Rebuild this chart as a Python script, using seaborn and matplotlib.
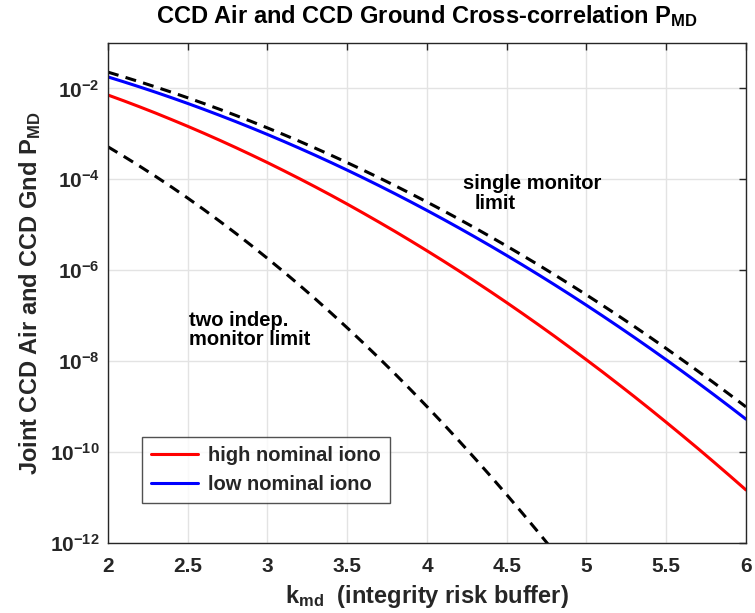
import numpy as np
import pandas as pd
import matplotlib
matplotlib.use("Agg")
import matplotlib.pyplot as plt
import matplotlib.ticker as mticker
import seaborn as sns

# ---- data ----
k_md = [2.0, 2.1, 2.2, 2.3, 2.4, 2.5, 2.6, 2.7, 2.8, 2.9,
        3.0, 3.1, 3.2, 3.3, 3.4, 3.5, 3.6, 3.7, 3.8, 3.9,
        4.0, 4.1, 4.2, 4.3, 4.4, 4.5, 4.6, 4.7, 4.8, 4.9,
        5.0, 5.1, 5.2, 5.3, 5.4, 5.5, 5.6, 5.7, 5.8, 5.9, 6.0]

single_limit = [2.275e-2, 1.786e-2, 1.390e-2, 1.072e-2, 8.198e-3, 6.210e-3, 4.661e-3, 3.467e-3, 2.555e-3, 1.866e-3,
                1.350e-3, 9.676e-4, 6.871e-4, 4.834e-4, 3.369e-4, 2.326e-4, 1.591e-4, 1.078e-4, 7.235e-5, 4.810e-5,
                3.167e-5, 2.066e-5, 1.335e-5, 8.540e-6, 5.413e-6, 3.398e-6, 2.112e-6, 1.301e-6, 7.933e-7, 4.792e-7,
                2.867e-7, 1.698e-7, 9.964e-8, 5.790e-8, 3.332e-8, 1.899e-8, 1.072e-8, 5.990e-9, 3.316e-9, 1.818e-9,
                9.866e-10]

low_iono = [1.786e-2, 1.390e-2, 1.072e-2, 8.198e-3, 6.210e-3, 4.661e-3, 3.467e-3, 2.555e-3, 1.866e-3, 1.350e-3,
            9.676e-4, 6.871e-4, 4.834e-4, 3.369e-4, 2.326e-4, 1.591e-4, 1.078e-4, 7.235e-5, 4.810e-5, 3.167e-5,
            2.066e-5, 1.335e-5, 8.540e-6, 5.413e-6, 3.398e-6, 2.112e-6, 1.301e-6, 7.933e-7, 4.792e-7, 2.867e-7,
            1.698e-7, 9.964e-8, 5.790e-8, 3.332e-8, 1.899e-8, 1.072e-8, 5.990e-9, 3.316e-9, 1.818e-9, 9.866e-10,
            5.30e-10]

high_iono = [7.14e-3, 5.31e-3, 3.91e-3, 2.85e-3, 2.05e-3, 1.465e-3, 1.035e-3, 7.24e-4, 5.01e-4, 3.43e-4,
             2.33e-4, 1.56e-4, 1.036e-4, 6.81e-5, 4.43e-5, 2.85e-5, 1.81e-5, 1.14e-5, 7.12e-6, 4.39e-6,
             2.68e-6, 1.62e-6, 9.69e-7, 5.72e-7, 3.35e-7, 1.94e-7, 1.11e-7, 6.29e-8, 3.53e-8, 1.95e-8,
             1.07e-8, 5.82e-9, 3.12e-9, 1.66e-9, 8.72e-10, 4.53e-10, 2.33e-10, 1.19e-10, 5.98e-11, 2.98e-11,
             1.47e-11]

k_two = [2.0, 2.1, 2.2, 2.3, 2.4, 2.5, 2.6, 2.7, 2.8, 2.9,
         3.0, 3.1, 3.2, 3.3, 3.4, 3.5, 3.6, 3.7, 3.8, 3.9,
         4.0, 4.1, 4.2, 4.3, 4.4, 4.5, 4.6, 4.7, 4.8, 4.9]
two_limit = [5.18e-4, 3.19e-4, 1.93e-4, 1.15e-4, 6.72e-5, 3.86e-5, 2.17e-5, 1.20e-5, 6.53e-6, 3.48e-6,
             1.82e-6, 9.36e-7, 4.72e-7, 2.34e-7, 1.135e-7, 5.41e-8, 2.53e-8, 1.162e-8, 5.23e-9, 2.31e-9,
             1.003e-9, 4.27e-10, 1.78e-10, 7.29e-11, 2.93e-11, 1.155e-11, 4.46e-12, 1.69e-12, 6.29e-13, 2.30e-13]

series_labels = ["high nominal iono", "low nominal iono"]
x_ticks = [2, 2.5, 3, 3.5, 4, 4.5, 5, 5.5, 6]
y_ticks = [1e-12, 1e-10, 1e-8, 1e-6, 1e-4, 1e-2]

# ---- style ----
sns.set_style("white")
plt.rcParams["font.family"] = ["Liberation Sans", "DejaVu Sans"]
plt.rcParams["font.weight"] = "bold"
plt.rcParams["mathtext.fontset"] = "custom"
plt.rcParams["mathtext.rm"] = "Liberation Sans:bold"
plt.rcParams["mathtext.it"] = "Liberation Sans:bold"
plt.rcParams["mathtext.bf"] = "Liberation Sans:bold"
plt.rcParams["mathtext.default"] = "rm"

TICK_FS = 15
TEXT_FS = 14.5
LABEL_FS = 17
INK = "#262626"
DASH = (0, (3.6, 2.4))

fig = plt.figure(figsize=(7.55, 6.13), dpi=100)
ax = fig.add_axes([0.143, 0.1142, 0.845, 0.8158])

df_main = pd.DataFrame({"k": k_md * 2,
                        "p": high_iono + low_iono,
                        "series": [series_labels[0]] * len(k_md) + [series_labels[1]] * len(k_md)})

sns.lineplot(data=df_main, x="k", y="p", hue="series", palette=["#ff0000", "#0000ff"],
             linewidth=2.2, ax=ax, sort=False)
sns.lineplot(x=k_md, y=single_limit, color="black", linewidth=2.2, ax=ax,
             linestyle=DASH, legend=False)
sns.lineplot(x=k_two, y=two_limit, color="black", linewidth=2.2, ax=ax,
             linestyle=DASH, legend=False)

ax.set_yscale("log")
ax.set_xlim(2, 6)
ax.set_ylim(1e-12, 1e-1)
ax.xaxis.set_major_locator(mticker.FixedLocator(x_ticks))
ax.xaxis.set_major_formatter(mticker.FuncFormatter(lambda v, p: f"{v:g}"))
ax.yaxis.set_major_locator(mticker.FixedLocator(y_ticks))
ax.yaxis.set_major_formatter(mticker.LogFormatterSciNotation())
ax.yaxis.set_minor_locator(mticker.NullLocator())
ax.xaxis.set_minor_locator(mticker.NullLocator())

ax.grid(True, color="#e3e3e3", linewidth=1.0)
ax.set_axisbelow(True)
for s in ax.spines.values():
    s.set_color(INK)
    s.set_linewidth(1.0)
ax.tick_params(direction="in", length=5, width=1.0, color=INK,
               labelsize=TICK_FS, labelcolor=INK, top=True, right=True)
ax.tick_params(axis="x", pad=10)
ax.tick_params(axis="y", pad=6)
for lab in ax.get_xticklabels() + ax.get_yticklabels():
    lab.set_fontweight("bold")

ax.set_xlabel(r"k$_{\mathrm{md}}$  (integrity risk buffer)", fontsize=LABEL_FS,
              fontweight="bold", color=INK, labelpad=5)
ax.set_ylabel(r"Joint CCD Air and CCD Gnd P$_{\mathrm{MD}}$", fontsize=LABEL_FS,
              fontweight="bold", color=INK, labelpad=5)
fig.text(0.5656, 1 - 23 / 613, r"CCD Air and CCD Ground Cross-correlation P$_{\mathrm{MD}}$",
         fontsize=LABEL_FS, fontweight="bold", color="black", ha="center", va="baseline")

ax.text(4.226, 10**-4.09, "single monitor", fontsize=TEXT_FS, fontweight="bold",
        va="center", ha="left", color="black")
ax.text(4.30, 10**-4.53, "limit", fontsize=TEXT_FS, fontweight="bold",
        va="center", ha="left", color="black")
ax.text(2.508, 10**-7.10, "two indep.", fontsize=TEXT_FS, fontweight="bold",
        va="center", ha="left", color="black")
ax.text(2.508, 10**-7.52, "monitor limit", fontsize=TEXT_FS, fontweight="bold",
        va="center", ha="left", color="black")

leg = ax.legend(loc="lower left", bbox_to_anchor=(0.053, 0.08), borderaxespad=0,
                frameon=True, fancybox=False, fontsize=TEXT_FS, handlelength=2.35,
                handletextpad=0.5, labelspacing=0.5, borderpad=0.45, title=None)
leg.get_frame().set_edgecolor(INK)
leg.get_frame().set_linewidth(1.0)
for t in leg.get_texts():
    t.set_fontweight("bold")

fig.savefig("out.png", dpi=100)
